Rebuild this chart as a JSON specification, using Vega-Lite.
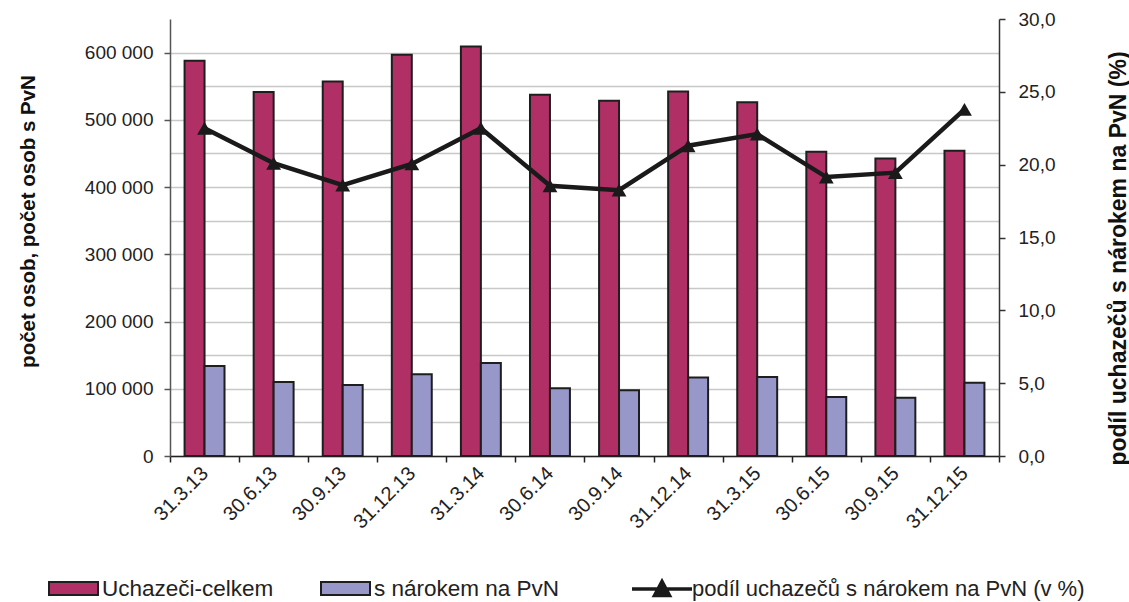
{
  "$schema": "https://vega.github.io/schema/vega-lite/v6.json",
  "width": 829,
  "height": 437,
  "autosize": {"type": "none"},
  "padding": {"left": 170, "top": 19, "right": 130, "bottom": 146},
  "background": "white",
  "config": {
    "font": "Liberation Sans",
    "view": {"stroke": null},
    "axis": {"labelFont": "Liberation Sans", "titleFont": "Liberation Sans", "labelColor": "#222222", "titleColor": "#111111"},
    "legend": {"labelFont": "Liberation Sans", "labelColor": "#222222", "padding": 0}
  },
  "datasets": {
    "bars": [
      {"datum": "31.3.13", "serie": "Uchazeči-celkem", "pocet": 588000},
      {"datum": "31.3.13", "serie": "s nárokem na PvN", "pocet": 134000},
      {"datum": "30.6.13", "serie": "Uchazeči-celkem", "pocet": 541500},
      {"datum": "30.6.13", "serie": "s nárokem na PvN", "pocet": 110200},
      {"datum": "30.9.13", "serie": "Uchazeči-celkem", "pocet": 557000},
      {"datum": "30.9.13", "serie": "s nárokem na PvN", "pocet": 105700},
      {"datum": "31.12.13", "serie": "Uchazeči-celkem", "pocet": 597000},
      {"datum": "31.12.13", "serie": "s nárokem na PvN", "pocet": 121600},
      {"datum": "31.3.14", "serie": "Uchazeči-celkem", "pocet": 609000},
      {"datum": "31.3.14", "serie": "s nárokem na PvN", "pocet": 138500},
      {"datum": "30.6.14", "serie": "Uchazeči-celkem", "pocet": 537500},
      {"datum": "30.6.14", "serie": "s nárokem na PvN", "pocet": 100800},
      {"datum": "30.9.14", "serie": "Uchazeči-celkem", "pocet": 528500},
      {"datum": "30.9.14", "serie": "s nárokem na PvN", "pocet": 97800},
      {"datum": "31.12.14", "serie": "Uchazeči-celkem", "pocet": 542000},
      {"datum": "31.12.14", "serie": "s nárokem na PvN", "pocet": 116600},
      {"datum": "31.3.15", "serie": "Uchazeči-celkem", "pocet": 526000},
      {"datum": "31.3.15", "serie": "s nárokem na PvN", "pocet": 117600},
      {"datum": "30.6.15", "serie": "Uchazeči-celkem", "pocet": 452500},
      {"datum": "30.6.15", "serie": "s nárokem na PvN", "pocet": 87800},
      {"datum": "30.9.15", "serie": "Uchazeči-celkem", "pocet": 442600},
      {"datum": "30.9.15", "serie": "s nárokem na PvN", "pocet": 86800},
      {"datum": "31.12.15", "serie": "Uchazeči-celkem", "pocet": 454000},
      {"datum": "31.12.15", "serie": "s nárokem na PvN", "pocet": 109100}
    ],
    "podil": [
      {"datum": "31.3.13", "podil": 22.5},
      {"datum": "30.6.13", "podil": 20.1},
      {"datum": "30.9.13", "podil": 18.6},
      {"datum": "31.12.13", "podil": 20.05},
      {"datum": "31.3.14", "podil": 22.5},
      {"datum": "30.6.14", "podil": 18.55},
      {"datum": "30.9.14", "podil": 18.25},
      {"datum": "31.12.14", "podil": 21.3},
      {"datum": "31.3.15", "podil": 22.1},
      {"datum": "30.6.15", "podil": 19.15},
      {"datum": "30.9.15", "podil": 19.45},
      {"datum": "31.12.15", "podil": 23.8}
    ]
  },
  "encoding": {
    "x": {
      "field": "datum",
      "type": "nominal",
      "scale": {
        "domain": ["31.3.13", "30.6.13", "30.9.13", "31.12.13", "31.3.14", "30.6.14", "30.9.14", "31.12.14", "31.3.15", "30.6.15", "30.9.15", "31.12.15"],
        "paddingInner": 0,
        "paddingOuter": 0
      },
      "axis": {
        "title": null,
        "labelAngle": -45,
        "labelAlign": "right",
        "labelBaseline": "middle",
        "labelFontSize": 20,
        "labelPadding": 8,
        "tickBand": "extent",
        "tickSize": 6,
        "tickWidth": 1.5,
        "tickColor": "#222222",
        "domainColor": "#222222",
        "domainWidth": 1.5,
        "grid": false
      }
    }
  },
  "layer": [
    {
      "data": {"name": "bars"},
      "mark": {"type": "bar", "stroke": "#1e1e1e", "strokeWidth": 2},
      "encoding": {
        "xOffset": {
          "field": "serie",
          "type": "nominal",
          "scale": {"domain": ["Uchazeči-celkem", "s nárokem na PvN"], "paddingInner": 0, "paddingOuter": 0.73}
        },
        "y": {
          "field": "pocet",
          "type": "quantitative",
          "scale": {"domain": [0, 650000], "nice": false},
          "axis": {
            "values": [0, 50000, 100000, 150000, 200000, 250000, 300000, 350000, 400000, 450000, 500000, 550000, 600000],
            "labelExpr": "datum.value % 100000 == 0 ? replace(format(datum.value, ','), ',', ' ') : ''",
            "tickOpacity": {"condition": {"test": "datum.value % 100000 != 0", "value": 0}, "value": 1},
            "grid": true,
            "gridColor": "#c8c8c8",
            "gridWidth": 1.5,
            "domainColor": "#555555",
            "domainWidth": 1.5,
            "tickColor": "#555555",
            "tickWidth": 1.5,
            "tickSize": 6,
            "labelFontSize": 19,
            "labelPadding": 11,
            "title": "počet osob, počet osob s PvN",
            "titleFontSize": 20.5,
            "titleFontWeight": "bold",
            "titleAngle": -90,
            "titleBaseline": "bottom",
            "titleX": -132,
            "titleY": 202
          }
        },
        "fill": {
          "field": "serie",
          "type": "nominal",
          "scale": {"domain": ["Uchazeči-celkem", "s nárokem na PvN"], "range": ["#b03065", "#9797c9"]},
          "legend": {
            "orient": "none",
            "legendX": -122,
            "legendY": 544,
            "direction": "horizontal",
            "title": null,
            "symbolType": "M-1,-0.27H1V0.27H-1Z",
            "symbolSize": 2401,
            "symbolStrokeColor": "#1e1e1e",
            "symbolStrokeWidth": 2,
            "symbolOpacity": 1,
            "labelFontSize": 22.5,
            "labelOffset": 3,
            "labelLimit": 0,
            "columnPadding": 43
          }
        }
      }
    },
    {
      "data": {"name": "podil"},
      "encoding": {
        "y": {
          "field": "podil",
          "type": "quantitative",
          "scale": {"domain": [0, 30], "nice": false},
          "axis": {
            "orient": "right",
            "values": [0, 5, 10, 15, 20, 25, 30],
            "labelExpr": "replace(format(datum.value, '.1f'), '.', ',')",
            "grid": false,
            "domainColor": "#333333",
            "domainWidth": 1.5,
            "tickColor": "#333333",
            "tickWidth": 1.5,
            "tickSize": 6,
            "labelPadding": 13,
            "labelFontSize": 19,
            "title": "podíl uchazečů s nárokem na PvN (%)",
            "titleFontSize": 23,
            "titleFontWeight": "bold",
            "titleAngle": -90,
            "titleBaseline": "middle",
            "titleX": 119,
            "titleY": 239
          }
        }
      },
      "layer": [
        {
          "mark": {"type": "line", "strokeWidth": 4.5},
          "encoding": {
            "stroke": {
              "datum": "podíl uchazečů s nárokem na PvN (v %)",
              "type": "nominal",
              "scale": {"range": ["#1a1a1a"]},
              "legend": {
                "orient": "none",
                "legendX": 460,
                "legendY": 538,
                "title": null,
                "symbolType": "M-1,0H1M-0.25,0.22L0,-0.25L0.25,0.22Z",
                "symbolSize": 3600,
                "symbolStrokeWidth": 3.5,
                "symbolFillColor": "#1a1a1a",
                "labelFontSize": 22,
                "labelOffset": -2,
                "labelLimit": 0,
                "encode": {"symbols": {"update": {"fill": {"value": "#1a1a1a"}}}}
              }
            }
          }
        },
        {
          "mark": {"type": "point", "shape": "triangle-up", "filled": true, "size": 220, "color": "#1a1a1a", "opacity": 1},
          "encoding": {}
        }
      ]
    }
  ],
  "resolve": {"scale": {"y": "independent"}}
}
